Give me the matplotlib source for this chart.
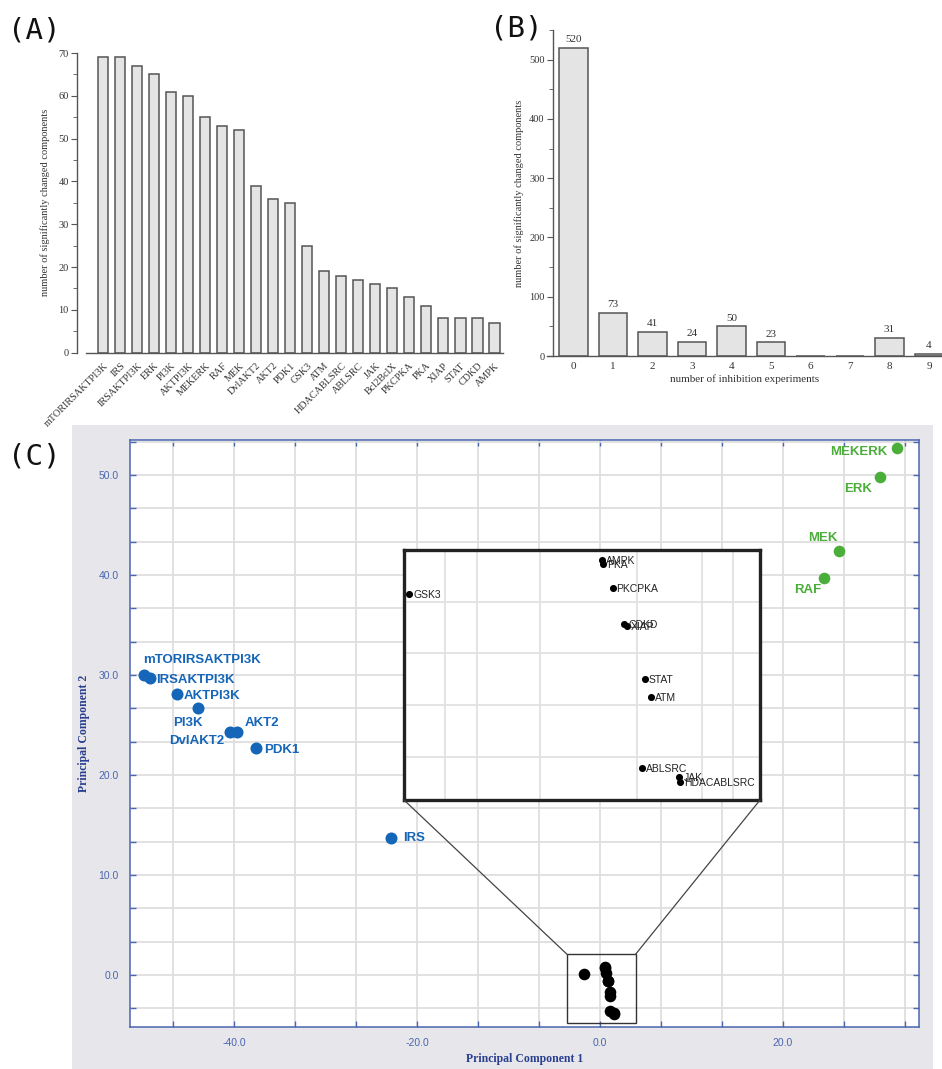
import matplotlib
matplotlib.use("Agg")
import matplotlib.pyplot as plt
from matplotlib.patches import Rectangle, ConnectionPatch
from matplotlib.ticker import MultipleLocator, FixedLocator, FormatStrFormatter

plt.rcParams['axes.unicode_minus'] = False

# ---------------- data ----------------
a_labels = ["mTORIRSAKTPI3K", "IRS", "IRSAKTPI3K", "ERK", "PI3K", "AKTPI3K", "MEKERK", "RAF",
            "MEK", "DvlAKT2", "AKT2", "PDK1", "GSK3", "ATM", "HDACABLSRC", "ABLSRC", "JAK",
            "Bcl2BclX", "PKCPKA", "PKA", "XIAP", "STAT", "CDKD", "AMPK"]
a_values = [69, 69, 67, 65, 61, 60, 55, 53, 52, 39, 36, 35, 25, 19, 18, 17, 16, 15, 13, 11, 8, 8, 8, 7]

b_experiments = [0, 1, 2, 3, 4, 5, 6, 7, 8, 9]
b_values = [520, 73, 41, 24, 50, 23, 0, 0, 31, 4]

blue_names = ["mTORIRSAKTPI3K", "IRSAKTPI3K", "AKTPI3K", "PI3K", "DvlAKT2", "AKT2", "PDK1", "IRS"]
blue_pc1 = [-49.9, -49.2, -46.3, -44.0, -40.5, -39.7, -37.6, -22.8]
blue_pc2 = [30.0, 29.7, 28.1, 26.7, 24.3, 24.3, 22.7, 13.7]

green_names = ["MEKERK", "ERK", "MEK", "RAF"]
green_pc1 = [32.5, 30.6, 26.2, 24.5]
green_pc2 = [52.7, 49.8, 42.4, 39.7]

black_names = ["GSK3", "AMPK", "PKA", "PKCPKA", "CDKD", "XIAP", "STAT", "ATM",
               "ABLSRC", "JAK", "HDACABLSRC"]
black_pc1 = [-1.70, 0.58, 0.59, 0.70, 0.84, 0.87, 1.08, 1.15, 1.05, 1.49, 1.50]
black_pc2 = [0.07, 0.78, 0.71, 0.20, -0.56, -0.60, -1.72, -2.09, -3.58, -3.77, -3.89]

# ---------------- layout helpers ----------------
W, H = 942, 1069
fig = plt.figure(figsize=(W / 100, H / 100), dpi=100)


def rect(x0, y0, x1, y1):
    return [x0 / W, 1 - y1 / H, (x1 - x0) / W, (y1 - y0) / H]


serif = ['Liberation Serif', 'DejaVu Serif']
sans = ['Liberation Sans', 'DejaVu Sans']
spine_c = '#555555'
txt_c = '#333333'

# panel C background
fig.patches.append(Rectangle((72 / W, 0), (933 - 72) / W, 1 - 425 / H, transform=fig.transFigure,
                             facecolor='#e7e6ea', edgecolor='none', zorder=-10))

# ---------------- Panel A ----------------
axA = fig.add_axes(rect(86, 53, 503, 352.7))
xa = list(range(len(a_values)))
axA.bar(xa, a_values, width=0.59, color='#e4e4e4', edgecolor='#555555', linewidth=1.1, zorder=2)
axA.set_xlim(-1.02, 23.5)
axA.set_ylim(0, 70)
for s in ['top', 'right']:
    axA.spines[s].set_visible(False)
axA.spines['left'].set_position(('outward', 6.5))
for s in ['left', 'bottom']:
    axA.spines[s].set_color(spine_c)
    axA.spines[s].set_linewidth(1.0)
axA.yaxis.set_major_locator(MultipleLocator(10))
axA.yaxis.set_minor_locator(MultipleLocator(5))
axA.tick_params(axis='y', which='major', length=4, color=spine_c, labelsize=7.5, labelcolor=txt_c, pad=2)
axA.tick_params(axis='y', which='minor', length=3, color=spine_c)
axA.set_xticks(xa)
axA.set_xticklabels(a_labels, rotation=45, ha='right', rotation_mode='anchor', fontsize=7.3,
                    color=txt_c, family=serif)
axA.tick_params(axis='x', length=0, pad=6)
for lab in axA.get_yticklabels():
    lab.set_family(serif)
axA.set_ylabel("number of significantly changed components", family=serif, fontsize=7.5, color=txt_c,
               labelpad=6)
fig.text(8 / W, 1 - 38 / H, "(A)", family='DejaVu Sans Mono', fontsize=21, color='#111111')

# ---------------- Panel B ----------------
axB = fig.add_axes(rect(547, 30, 942, 356))
axB.bar(b_experiments, b_values, width=0.73, color='#e4e4e4', edgecolor='#555555', linewidth=1.1,
        zorder=2)
axB.set_xlim(-0.67, 9.33)
axB.set_ylim(0, 550)
for s in ['top', 'right']:
    axB.spines[s].set_visible(False)
axB.spines['left'].set_position(('axes', 6 / 395))
for s in ['left', 'bottom']:
    axB.spines[s].set_color(spine_c)
    axB.spines[s].set_linewidth(1.0)
axB.yaxis.set_major_locator(MultipleLocator(100))
axB.yaxis.set_minor_locator(MultipleLocator(50))
axB.tick_params(axis='y', which='major', length=4, color=spine_c, labelsize=7.5, labelcolor=txt_c, pad=2)
axB.tick_params(axis='y', which='minor', length=3, color=spine_c)
axB.set_xticks(b_experiments)
axB.tick_params(axis='x', length=0, labelsize=8, labelcolor=txt_c, pad=4)
for lab in axB.get_xticklabels() + axB.get_yticklabels():
    lab.set_family(serif)
for xv, v in zip(b_experiments, b_values):
    if v > 0:
        axB.text(xv, v + 6, str(v), ha='center', va='bottom', family=serif, fontsize=8, color=txt_c,
                 clip_on=False)
axB.set_xlabel("number of inhibition experiments", family=serif, fontsize=8, color=txt_c, labelpad=3)
axB.set_ylabel("number of significantly changed components", family=serif, fontsize=7.5, color=txt_c,
               labelpad=4)
fig.text(490 / W, 1 - 37 / H, "(B)", family='DejaVu Sans Mono', fontsize=21, color='#111111')

# ---------------- Panel C ----------------
axis_blue = '#4a66b0'
label_blue = '#2a3f8f'
pt_blue = '#1565b8'
pt_green = '#4cae3a'

axC = fig.add_axes(rect(130, 440, 919, 1026.7))
axC.set_facecolor('white')
axC.set_xlim(-51.4, 34.9)
axC.set_ylim(-5.17, 53.5)
axC.xaxis.set_major_locator(FixedLocator([-40, -20, 0, 20]))
axC.xaxis.set_minor_locator(MultipleLocator(20 / 3))
axC.yaxis.set_major_locator(MultipleLocator(10))
axC.yaxis.set_minor_locator(MultipleLocator(10 / 3))
axC.xaxis.set_major_formatter(FormatStrFormatter('%.1f'))
axC.yaxis.set_major_formatter(FormatStrFormatter('%.1f'))
axC.grid(True, which='both', color='#dedede', linewidth=1.3, zorder=0)
axC.set_axisbelow(True)
axC.tick_params(which='both', direction='in', top=True, right=True, length=4, color=axis_blue,
                width=1.0)
axC.tick_params(which='major', labelsize=7.5, labelcolor=axis_blue, pad=8)
for lab in axC.get_xticklabels() + axC.get_yticklabels():
    lab.set_family(sans)
for s in axC.spines.values():
    s.set_color(axis_blue)
    s.set_linewidth(1.1)
axC.set_xlabel("Principal Component 1", family=serif, fontsize=8.5, fontweight='bold', color=label_blue,
               labelpad=4)
axC.set_ylabel("Principal Component 2", family=serif, fontsize=8.5, fontweight='bold', color=label_blue,
               labelpad=6)

axC.scatter(blue_pc1, blue_pc2, s=75, color=pt_blue, zorder=4, linewidths=0)
axC.scatter(green_pc1, green_pc2, s=70, color=pt_green, zorder=4, linewidths=0)
axC.scatter(black_pc1, black_pc2, s=70, color='black', zorder=4, linewidths=0)

blue_off = {"mTORIRSAKTPI3K": (-1, 15, 'left'), "IRSAKTPI3K": (6, -2, 'left'),
            "AKTPI3K": (7, -2, 'left'), "PI3K": (5, -15, 'right'), "DvlAKT2": (-5, -9, 'right'),
            "AKT2": (8, 9, 'left'), "PDK1": (8, -2, 'left'), "IRS": (12, 0, 'left')}
for n, x, y in zip(blue_names, blue_pc1, blue_pc2):
    dx, dy, ha = blue_off[n]
    axC.annotate(n, (x, y), xytext=(dx, dy), textcoords='offset pixels', ha=ha, va='center',
                 fontsize=9.5, fontweight='bold', color=pt_blue, family=sans, zorder=5)

green_off = {"MEKERK": (-10, -4), "ERK": (-8, -12), "MEK": (-2, 13), "RAF": (-3, -12)}
for n, x, y in zip(green_names, green_pc1, green_pc2):
    dx, dy = green_off[n]
    axC.annotate(n, (x, y), xytext=(dx, dy), textcoords='offset pixels', ha='right', va='center',
                 fontsize=9.5, fontweight='bold', color=pt_green, family=sans, zorder=5)

# zoom box
zx0, zx1, zy0, zy1 = -3.6, 3.9, -4.77, 2.07
axC.add_patch(Rectangle((zx0, zy0), zx1 - zx0, zy1 - zy0, fill=False, edgecolor='#333333',
                        linewidth=1.0, zorder=3))

# inset
axI = fig.add_axes(rect(404, 550, 760, 800))
axI.set_xlim(-1.76, 2.44)
axI.set_ylim(-4.26, 1.0)
axI.set_facecolor('white')
axI.xaxis.set_major_locator(FixedLocator([-1.275, -0.901, -0.154, 0.987, 1.754, 2.127]))
axI.yaxis.set_major_locator(FixedLocator([-0.092, -1.175, -2.261, -3.347]))
axI.grid(True, color='#e2e2e2', linewidth=1.3)
axI.set_axisbelow(True)
axI.tick_params(length=0, labelbottom=False, labelleft=False)
for s in axI.spines.values():
    s.set_color('#222222')
    s.set_linewidth(2.4)
axI.scatter(black_pc1, black_pc2, s=26, color='black', zorder=4, linewidths=0, clip_on=False)
for n, x, y in zip(black_names, black_pc1, black_pc2):
    axI.annotate(n, (x, y), xytext=(4, -1), textcoords='offset pixels', ha='left', va='center',
                 fontsize=7.5, color='#222222', family=sans, zorder=5)

for (xa_, ya_), (xb_, yb_) in [((zx0, zy1), (0, 0)), ((zx1, zy1), (1, 0))]:
    con = ConnectionPatch(xyA=(xa_, ya_), coordsA=axC.transData, xyB=(xb_, yb_),
                          coordsB=axI.transAxes, color='#444444', linewidth=0.9)
    fig.add_artist(con)

fig.text(8 / W, 1 - 465 / H, "(C)", family='DejaVu Sans Mono', fontsize=21, color='#111111')

fig.savefig("out.png", dpi=100)
